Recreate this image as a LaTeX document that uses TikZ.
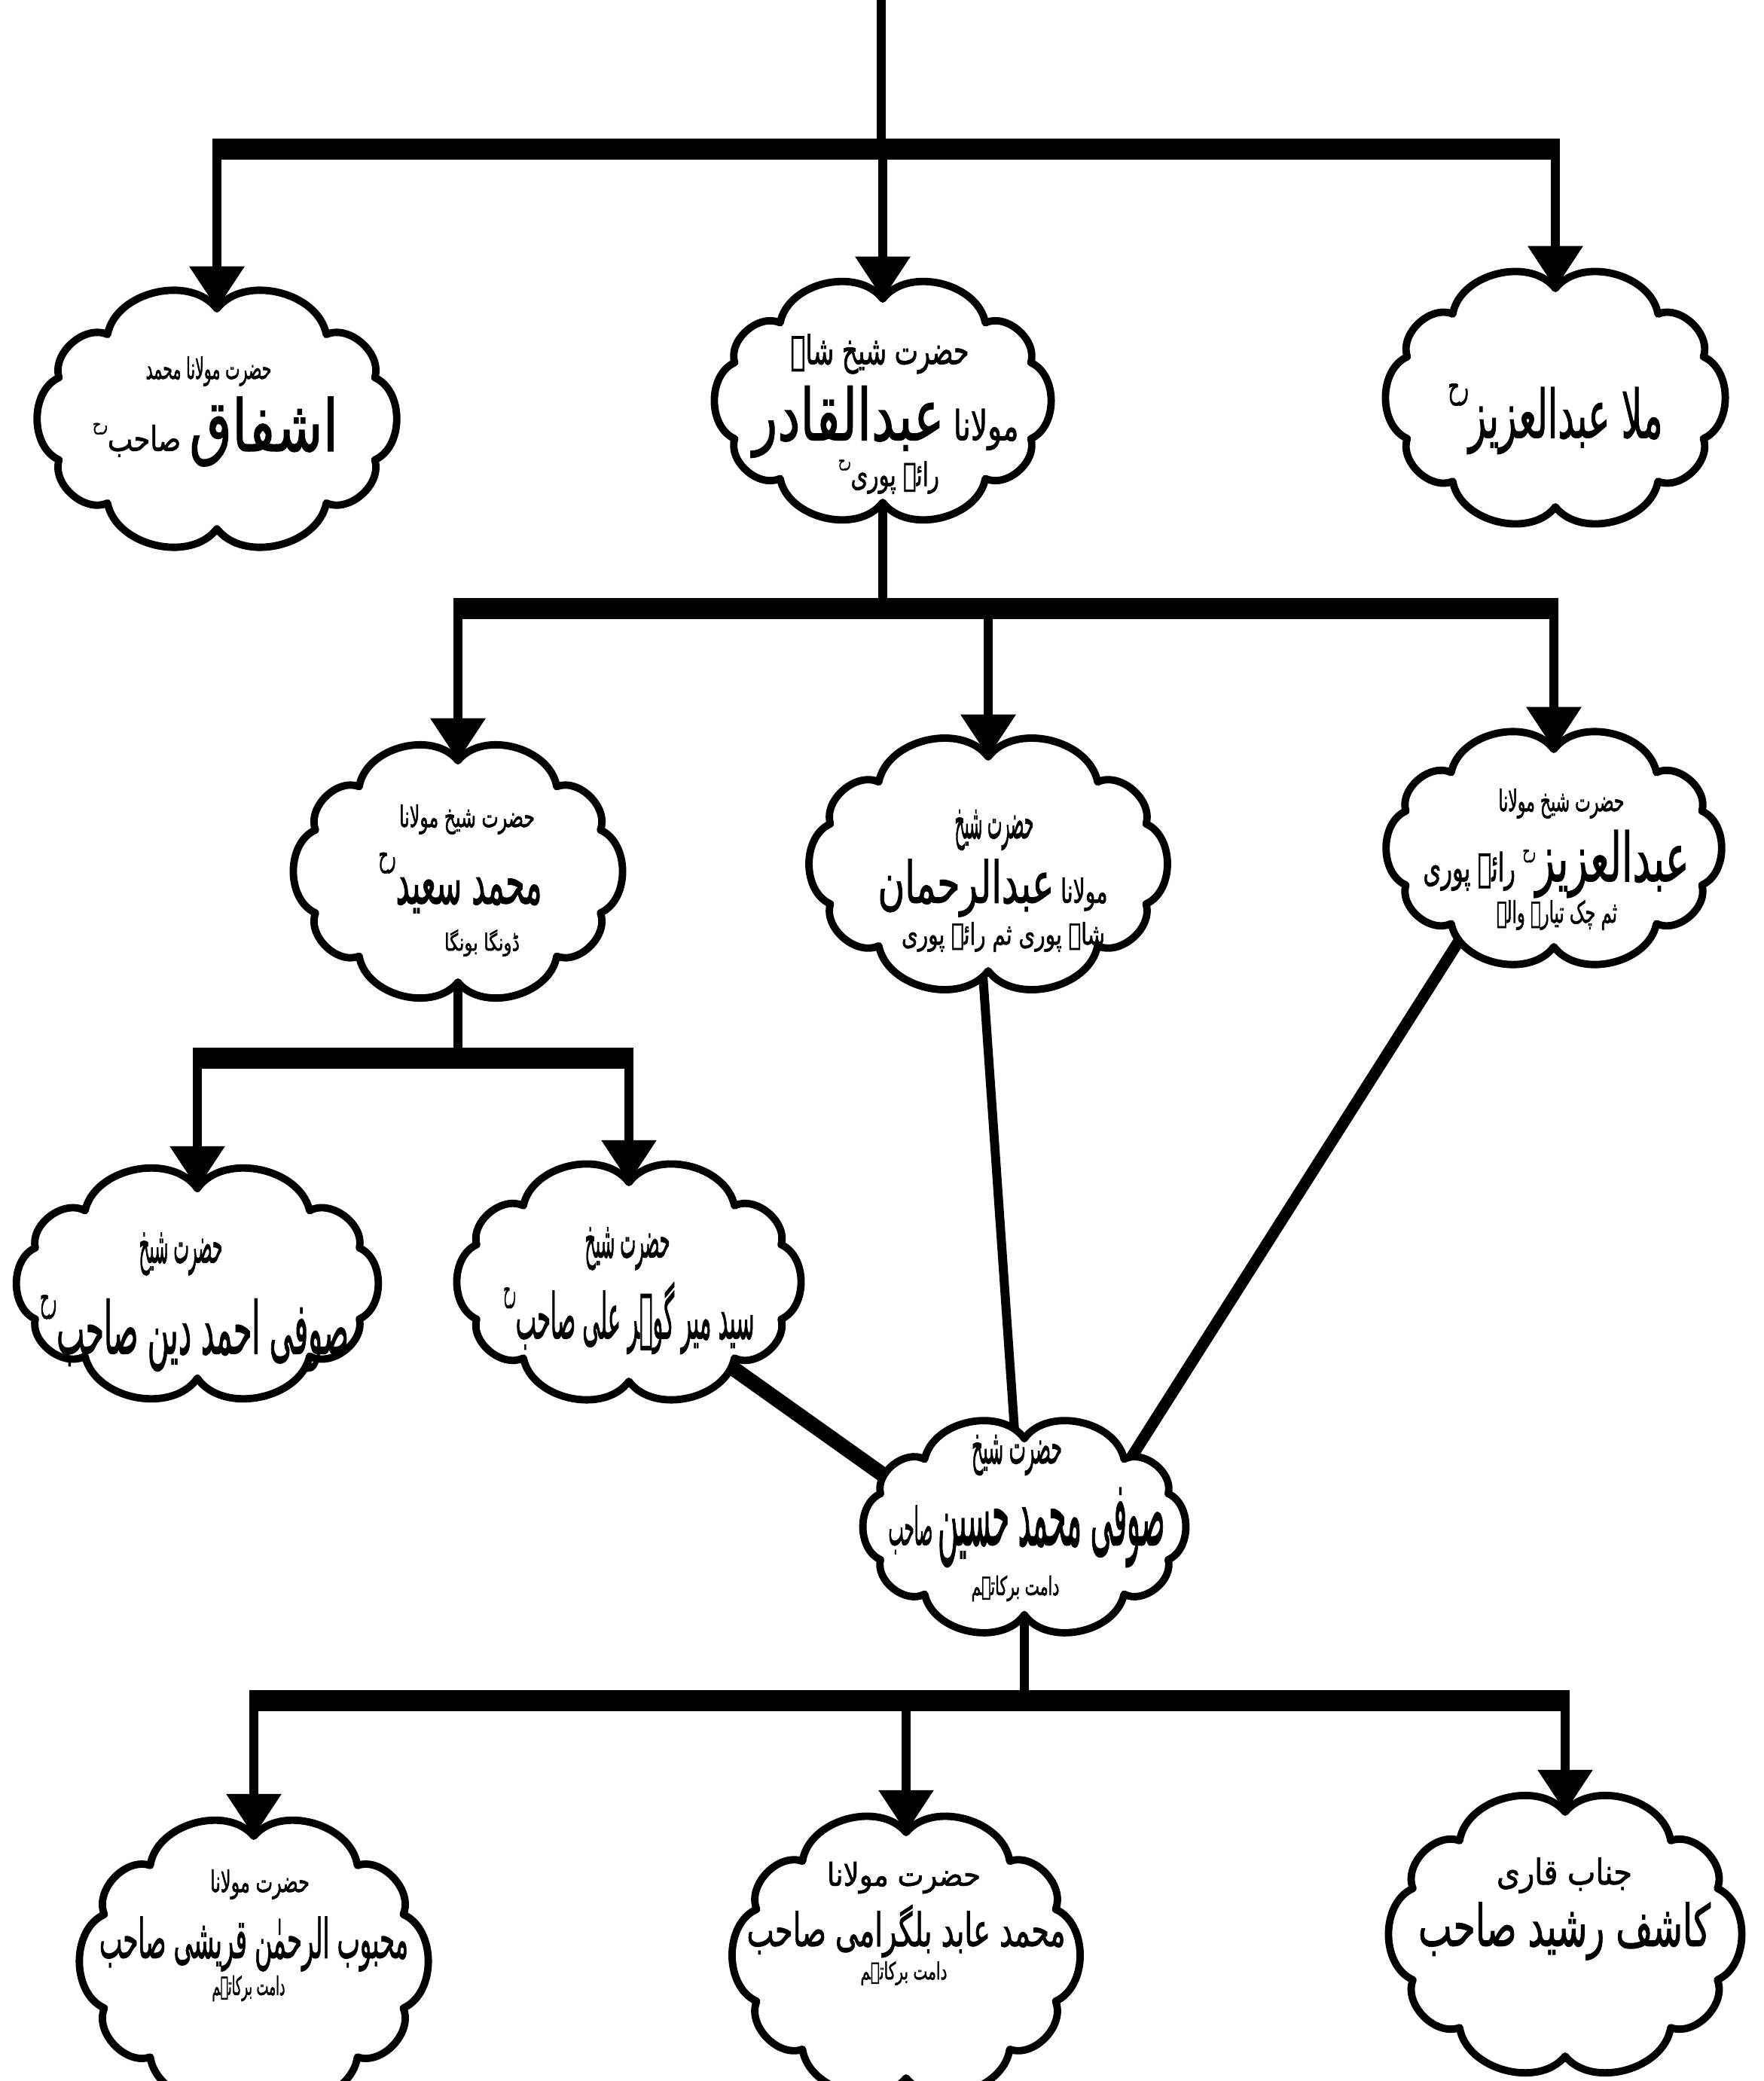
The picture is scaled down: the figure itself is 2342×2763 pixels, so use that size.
\documentclass[tikz,border=0pt]{standalone}
\usepackage{fontspec}
\usepackage{graphicx}
\usetikzlibrary{arrows.meta,shapes.geometric}
\newfontfamily\urf[Script=Arabic,FakeBold=1.6]{DejaVu Sans}
\TeXXeTstate=1
\newlength\upx \setlength\upx{0.01cm}
\newcommand\urline[3]{\resizebox{#1\upx}{#2\upx}{#3}}
\newcommand\rah{\raisebox{1.1ex}{\tiny رح}}
\pgfdeclarelayer{bg}\pgfdeclarelayer{conn}\pgfdeclarelayer{clouds}
\pgfsetlayers{bg,conn,clouds,main}
\tikzset{
  anc/.style={ellipse, inner sep=0pt, outer sep=0pt, draw=none},
  cloudline/.style={draw=black, fill=white, line width=2.8pt, line join=round},
  bar/.style={line width=7.7pt, shorten <=-1.7pt, shorten >=-1.7pt},
  stem/.style={line width=3.4pt},
  arr/.style={line width=3.4pt, -{Triangle[width=20pt,length=16pt]}},
  txt/.style={inner sep=0pt, font=\urf},
}
\newcommand\mycloud[5]{%
  \node[anc, minimum width={2*#4*0.01cm}, minimum height={2*#5*0.01cm}] (#1) at (#2,#3) {};
  \begin{pgfonlayer}{clouds}
    \draw[cloudline] ({#2+#4*cos(90)},{#3+#5*sin(90)})
      foreach \a in {130,158,202,230,270,310,338,382,410,450}
      { to[bend left=66] ({#2+#4*cos(\a)},{#3+#5*sin(\a)}) } -- cycle;
  \end{pgfonlayer}}
\begin{document}
\begin{tikzpicture}[x=0.01cm, y=-0.01cm]
\begin{pgfonlayer}{bg}\fill[white] (0,0) rectangle (2342,2763);\end{pgfonlayer}
\useasboundingbox (0,0) rectangle (2342,2763);

% clouds: name, cx, cy, rx, ry
\mycloud{c1}{288}{556}{226}{146}
\mycloud{c2}{1172}{532}{212}{135}
\mycloud{c3}{2065}{528}{212}{145}
\mycloud{c4}{608}{1157}{204}{147}
\mycloud{c5}{1312}{1147}{226}{142}
\mycloud{c6}{2063}{1126}{212}{131}
\mycloud{c7}{262}{1704}{232}{126}
\mycloud{c8}{835}{1702}{218}{132}
\mycloud{c9}{1360}{2027}{206}{117}
\mycloud{c10}{337}{2604}{214}{166}
\mycloud{c11}{1203}{2596}{214}{163}
\mycloud{c12}{2078}{2568}{218}{162}

% texts
\node[txt] (t1a) at (277,493) {\urline{167}{30}{\beginR حضرت مولانا محمد\endR}};
\node[txt] (t1b) at (286,573) {\urline{326}{72}{\beginR {\huge اشفاق} صاحب\rah\endR}};
\node[txt] (t2a) at (1168,470) {\urline{237}{40}{\beginR حضرت شیخ شاہ\endR}};
\node[txt] (t2b) at (1176,560) {\urline{353}{72}{\beginR مولانا {\LARGE عبدالقادر}\endR}};
\node[txt] (t2c) at (1180,633) {\urline{134}{35}{\beginR رائے پوری\rah\endR}};
\node[txt] (t3) at (2065,556) {\urline{285}{72}{\beginR ملا عبدالعزیز\rah\endR}};
\node[txt] (t4a) at (620,1088) {\urline{180}{30}{\beginR حضرت شیخ مولانا\endR}};
\node[txt] (t4b) at (611,1172) {\urline{217}{68}{\beginR محمد سعید\rah\endR}};
\node[txt] (t4c) at (640,1252) {\urline{100}{28}{\beginR ڈونگا بونگا\endR}};
\node[txt] (t5a) at (1320,1102) {\urline{105}{38}{\beginR حضرت شیخ\endR}};
\node[txt] (t5b) at (1318,1179) {\urline{305}{58}{\beginR مولانا {\LARGE عبدالرحمان}\endR}};
\node[txt] (t5c) at (1332,1244) {\urline{270}{30}{\beginR شاہ پوری ثم رائے پوری\endR}};
\node[txt] (t6a) at (2073,1067) {\urline{167}{30}{\beginR حضرت شیخ مولانا\endR}};
\node[txt] (t6b) at (2066,1147) {\urline{353}{68}{\beginR {\LARGE عبدالعزیز}\rah{} رائے پوری\endR}};
\node[txt] (t6c) at (2067,1215) {\urline{160}{30}{\beginR ثم چک تیارہ والے\endR}};
\node[txt] (t7a) at (240,1665) {\urline{111}{40}{\beginR حضرت شیخ\endR}};
\node[txt] (t7b) at (258,1770) {\urline{410}{78}{\beginR صوفی احمد دین صاحب\rah\endR}};
\node[txt] (t8a) at (833,1658) {\urline{113}{40}{\beginR حضرت شیخ\endR}};
\node[txt] (t8b) at (835,1750) {\urline{333}{75}{\beginR سید میر گوہر علی صاحب\rah\endR}};
\node[txt] (t9a) at (1350,1932) {\urline{120}{38}{\beginR حضرت شیخ\endR}};
\node[txt] (t9b) at (1363,2028) {\urline{367}{76}{\beginR {\LARGE صوفی محمد حسین} صاحب\endR}};
\node[txt] (t9c) at (1348,2109) {\urline{117}{26}{\beginR دامت برکاتہم\endR}};
\node[txt] (t10a) at (345,2502) {\urline{132}{30}{\beginR حضرت مولانا\endR}};
\node[txt] (t10b) at (337,2581) {\urline{410}{55}{\beginR محبوب الرحمٰن قریشی صاحب\endR}};
\node[txt] (t10c) at (330,2640) {\urline{97}{26}{\beginR دامت برکاتہم\endR}};
\node[txt] (t11a) at (1200,2493) {\urline{204}{32}{\beginR حضرت مولانا\endR}};
\node[txt] (t11b) at (1203,2564) {\urline{423}{55}{\beginR محمد عابد بلگرامی صاحب\endR}};
\node[txt] (t11c) at (1200,2620) {\urline{115}{24}{\beginR دامت برکاتہم\endR}};
\node[txt] (t12a) at (2077,2490) {\urline{180}{36}{\beginR جناب قاری\endR}};
\node[txt] (t12b) at (2077,2564) {\urline{388}{58}{\beginR کاشف رشید صاحب\endR}};

% connectors
\coordinate (top) at (1170,0);
\coordinate (b1) at (1170,198);
\coordinate (b2) at (1172,808);
\coordinate (b3) at (608,1405);
\coordinate (b4) at (1360,2258);
\begin{pgfonlayer}{conn}
\draw[stem] (top) -- (b1);
\draw[bar] (c1.north |- b1) -- (c3.north |- b1);
\draw[arr] (c1.north |- b1) -- (c1.north);
\draw[arr] (c2.north |- b1) -- (c2.north);
\draw[arr] (c3.north |- b1) -- (c3.north);
\draw[stem] (c2.south) -- (c2.south |- b2);
\draw[bar] (c4.north |- b2) -- (c6.north |- b2);
\draw[arr] (c4.north |- b2) -- (c4.north);
\draw[arr] (c5.north |- b2) -- (c5.north);
\draw[arr] (c6.north |- b2) -- (c6.north);
\draw[stem] (c4.south) -- (c4.south |- b3);
\draw[bar] (c7.north |- b3) -- (c8.north |- b3);
\draw[arr] (c7.north |- b3) -- (c7.north);
\draw[arr] (c8.north |- b3) -- (c8.north);
\draw[line width=5.7pt] (c8.-40) -- (c9.161);
\draw[line width=3.4pt] (c5.-93) -- (c9.96);
\draw[line width=4.3pt] (c6.-137) -- (c9.32);
\draw[stem] (c9.south) -- (c9.south |- b4);
\draw[bar] (c10.north |- b4) -- (c12.north |- b4);
\draw[arr] (c10.north |- b4) -- (c10.north);
\draw[arr] (c11.north |- b4) -- (c11.north);
\draw[arr] (c12.north |- b4) -- (c12.north);
\end{pgfonlayer}
\end{tikzpicture}
\end{document}
